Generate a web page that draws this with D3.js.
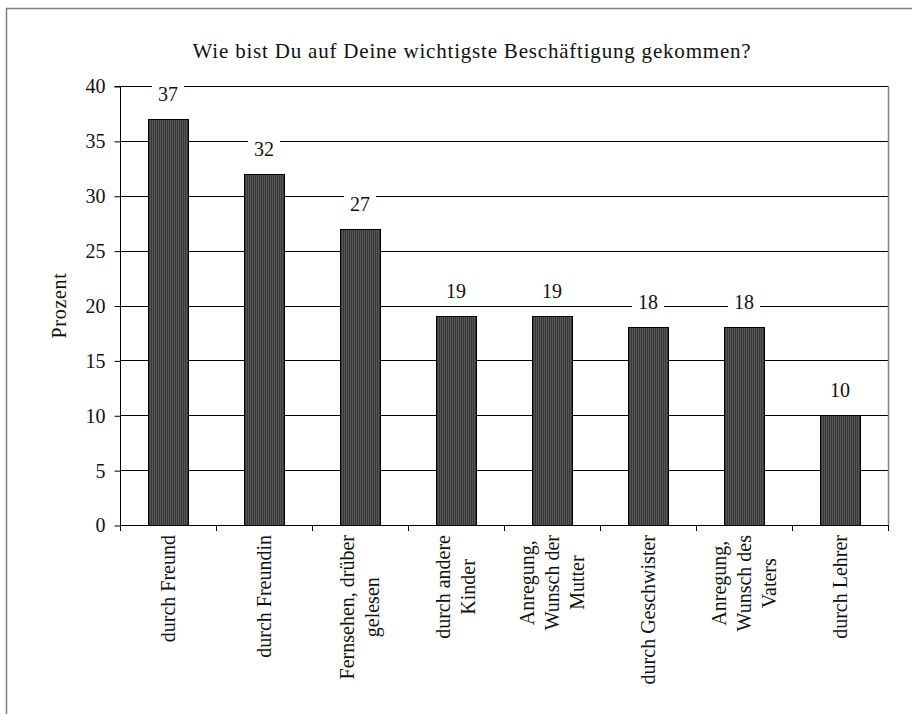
<!DOCTYPE html>
<html>
<head>
<meta charset="utf-8">
<script src="https://cdn.jsdelivr.net/npm/d3@7"></script>
<style>
  html, body { margin: 0; padding: 0; background: #fff; }
  svg { display: block; }
  text { font-family: "Liberation Serif", "Times New Roman", serif; fill: #111; }
</style>
</head>
<body>
<svg id="chart" width="912" height="714"></svg>
<script>
// Survey: how children found their most important activity (percent)
const categories = [
  ["durch Freund"],
  ["durch Freundin"],
  ["Fernsehen, drüber", "gelesen"],
  ["durch andere", "Kinder"],
  ["Anregung,", "Wunsch der", "Mutter"],
  ["durch Geschwister"],
  ["Anregung,", "Wunsch des", "Vaters"],
  ["durch Lehrer"]
];
const values = [37, 32, 27, 19, 19, 18, 18, 10];
const yTicks = [0, 5, 10, 15, 20, 25, 30, 35, 40];
const title = "Wie bist Du auf Deine wichtigste Beschäftigung gekommen?";
const yTitle = "Prozent";

const svg = d3.select("#chart");
const fs = 20;
const plot = { left: 120, right: 888, top: 86, bottom: 525 };

// striped fill for the bars
const defs = svg.append("defs");
const pat = defs.append("pattern")
  .attr("id", "stripes").attr("patternUnits", "userSpaceOnUse")
  .attr("width", 2).attr("height", 4);
pat.append("rect").attr("width", 2).attr("height", 4).attr("fill", "#383838");
pat.append("rect").attr("width", 1).attr("height", 4).attr("fill", "#575757");

// outer frame (runs off the right and bottom edges)
svg.append("rect")
  .attr("x", 6.5).attr("y", 8.5).attr("width", 940).attr("height", 740)
  .attr("fill", "none").attr("stroke", "#7f7f7f").attr("stroke-width", 1.5);

const x = d3.scaleBand()
  .domain(d3.range(categories.length))
  .range([plot.left, plot.right])
  .paddingInner(0.583).paddingOuter(0.2915);

const xBoundary = d3.scaleLinear()
  .domain([0, categories.length])
  .range([plot.left, plot.right]);

const y = d3.scaleLinear().domain([0, 40]).range([plot.bottom, plot.top]);

// gridlines
svg.append("g").selectAll("line")
  .data(yTicks.filter(t => t > 0))
  .join("line")
  .attr("x1", plot.left).attr("x2", plot.right)
  .attr("y1", d => Math.round(y(d)) + 0.5).attr("y2", d => Math.round(y(d)) + 0.5)
  .attr("stroke", "#000").attr("stroke-width", 1);

// right edge of plot area
svg.append("line")
  .attr("x1", plot.right + 0.5).attr("x2", plot.right + 0.5)
  .attr("y1", plot.top).attr("y2", plot.bottom)
  .attr("stroke", "#808080").attr("stroke-width", 1.5);

// bars
svg.append("g").selectAll("rect")
  .data(values)
  .join("rect")
  .attr("x", (d, i) => Math.round(x(i)) + 0.5)
  .attr("y", d => Math.round(y(d)) + 0.5)
  .attr("width", Math.round(x.bandwidth()))
  .attr("height", d => Math.round(y(0)) - Math.round(y(d)))
  .attr("fill", "url(#stripes)")
  .attr("stroke", "#000").attr("stroke-width", 1);

// value labels with white backing that interrupts gridlines
const lab = svg.append("g").selectAll("g")
  .data(values)
  .join("g")
  .attr("transform", (d, i) => `translate(${x(i) + x.bandwidth() / 2},${y(d) - 18})`);
lab.append("rect")
  .attr("x", -16).attr("y", -18).attr("width", 32).attr("height", 23)
  .attr("fill", "#fff");
lab.append("text")
  .attr("text-anchor", "middle")
  .attr("font-size", fs)
  .text(d => d);

// y axis
const yAxis = d3.axisLeft(y).tickValues(yTicks).tickSize(6).tickPadding(9);
const gy = svg.append("g")
  .attr("transform", `translate(${plot.left + 0.5},0.5)`)
  .call(yAxis);
gy.select(".domain").attr("stroke", "#000").attr("d", `M-6,${plot.top}H0V${plot.bottom}`);
gy.selectAll(".tick line").attr("stroke", "#000");
gy.selectAll(".tick text")
  .attr("font-size", fs).attr("fill", "#111");

// x axis baseline and boundary ticks
svg.append("line")
  .attr("x1", plot.left).attr("x2", plot.right + 1)
  .attr("y1", plot.bottom + 0.5).attr("y2", plot.bottom + 0.5)
  .attr("stroke", "#000");
svg.append("g").selectAll("line")
  .data(d3.range(categories.length + 1))
  .join("line")
  .attr("x1", d => Math.round(xBoundary(d)) + 0.5)
  .attr("x2", d => Math.round(xBoundary(d)) + 0.5)
  .attr("y1", plot.bottom).attr("y2", plot.bottom + 6)
  .attr("stroke", "#000");

// rotated category labels, lines centred on each other, top-aligned below axis
const lineGap = 25;
categories.forEach((lines, i) => {
  const g = svg.append("g")
    .attr("transform", `translate(${x(i) + x.bandwidth() / 2},${plot.bottom + 10}) rotate(-90)`);
  const texts = lines.map((ln, j) => g.append("text")
    .attr("font-size", fs)
    .attr("text-anchor", "middle")
    .attr("y", (j - (lines.length - 1) / 2) * lineGap + fs * 0.33)
    .text(ln));
  const maxLen = d3.max(texts, t => t.node().getComputedTextLength());
  texts.forEach(t => t.attr("x", -maxLen / 2));
});

// titles
svg.append("text")
  .attr("x", 472).attr("y", 58)
  .attr("text-anchor", "middle")
  .attr("font-size", 21)
  .attr("letter-spacing", 0.8)
  .text(title);

svg.append("text")
  .attr("transform", `translate(66,${(plot.top + plot.bottom) / 2}) rotate(-90)`)
  .attr("text-anchor", "middle")
  .attr("font-size", fs)
  .attr("letter-spacing", 0.7)
  .text(yTitle);
</script>
</body>
</html>
